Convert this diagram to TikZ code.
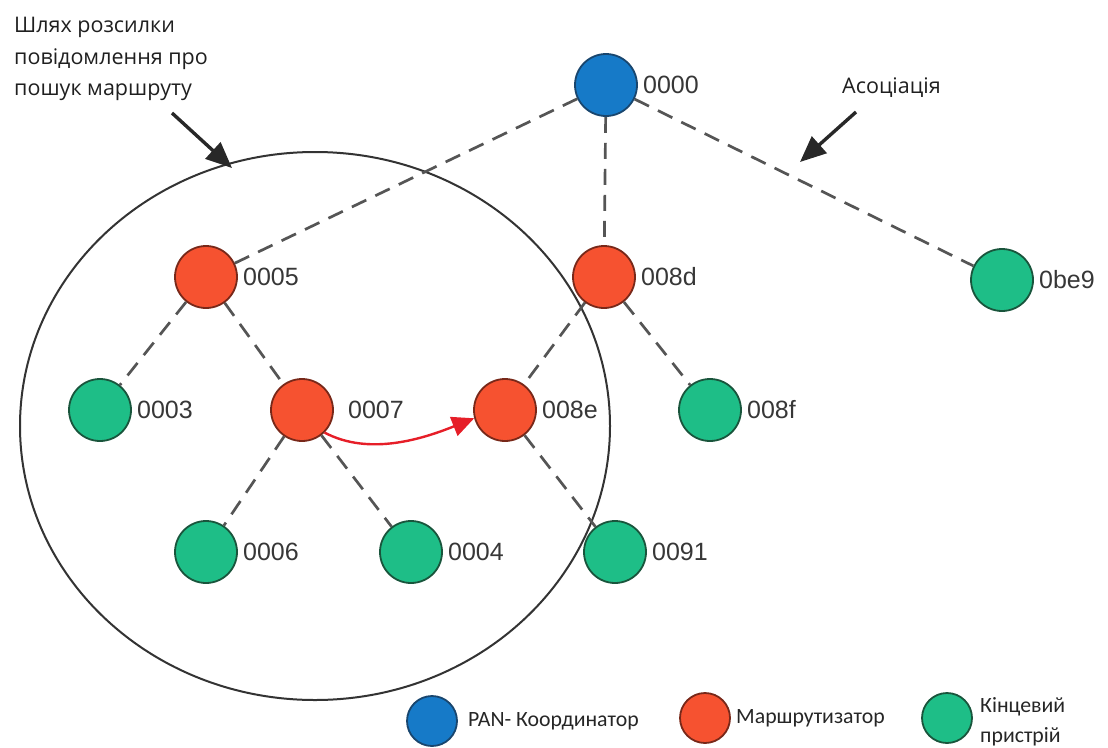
\documentclass[tikz,border=0pt]{standalone}
\usepackage{fontspec}
\setmainfont{Open Sans}
\newfontfamily\legfont{Carlito}
\newfontfamily\numfont{Liberation Sans}
\usetikzlibrary{arrows.meta}
\definecolor{cblue}{RGB}{22,122,200}
\definecolor{cbluedk}{RGB}{25,70,110}
\definecolor{cred}{RGB}{246,82,48}
\definecolor{creddk}{RGB}{120,40,25}
\definecolor{cgreen}{RGB}{30,190,135}
\definecolor{cgreendk}{RGB}{25,85,60}
\definecolor{lblgray}{RGB}{55,55,55}
\definecolor{edgegray}{RGB}{85,85,85}
\definecolor{notegray}{RGB}{40,40,40}
\definecolor{arrred}{RGB}{230,30,40}
\begin{document}
\begin{tikzpicture}[x=1pt,y=-1pt,
  dev/.style={circle, draw, line width=1.8pt, minimum size=62pt, inner sep=0pt},
  coordn/.style={dev, fill=cblue, draw=cbluedk},
  router/.style={dev, fill=cred, draw=creddk},
  enddev/.style={dev, fill=cgreen, draw=cgreendk},
  lbl/.style={font=\numfont\fontsize{25}{25}\selectfont, text=lblgray, anchor=west, inner sep=0pt},
  assoc/.style={dash pattern=on 16pt off 10pt, line width=2.7pt, draw=edgegray},
  note/.style={-{Triangle[length=26pt,width=22pt]}, line width=3.4pt, draw=notegray, fill=notegray},
  notetxt/.style={font=\fontsize{21.5}{31.5}\selectfont, text=black!88, inner sep=0pt, align=left},
  legtxt/.style={font=\legfont\fontsize{21.8}{30}\selectfont, text=black!85, anchor=west, inner sep=0pt, align=left},
]
\useasboundingbox (0,0) rectangle (1108,747);

% broadcast range
\draw[line width=2pt, draw=black!80] (315,426) ellipse [x radius=295, y radius=274];

% nodes
\node[coordn] (n0000) at (606,85) {};
\node[router] (n0005) at (206,277) {};
\node[router] (n008d) at (604,277) {};
\node[enddev] (n0be9) at (1002,280) {};
\node[enddev] (n0003) at (100,410) {};
\node[router] (n0007) at (302,410) {};
\node[router] (n008e) at (505,410) {};
\node[enddev] (n008f) at (710,410) {};
\node[enddev] (n0006) at (206,552) {};
\node[enddev] (n0004) at (411,552) {};
\node[enddev] (n0091) at (615,552) {};

% labels
\node[lbl] (t0000) at ([xshift=5pt]n0000.east) {0000};
\node[lbl] (t0005) at ([xshift=5pt]n0005.east) {0005};
\node[lbl] (t008d) at ([xshift=5pt]n008d.east) {008d};
\node[lbl] (t0be9) at ([xshift=5pt]n0be9.east) {0be9};
\node[lbl] (t0003) at ([xshift=5pt]n0003.east) {0003};
\node[lbl] (t0007) at ([xshift=14pt]n0007.east) {0007};
\node[lbl] (t008e) at ([xshift=5pt]n008e.east) {008e};
\node[lbl] (t008f) at ([xshift=5pt]n008f.east) {008f};
\node[lbl] (t0006) at ([xshift=5pt]n0006.east) {0006};
\node[lbl] (t0004) at ([xshift=5pt]n0004.east) {0004};
\node[lbl] (t0091) at ([xshift=5pt]n0091.east) {0091};

% associations
\draw[assoc] (n0000) -- (n0005);
\draw[assoc] (n0000) -- (n008d);
\draw[assoc] (n0000) -- (n0be9);
\draw[assoc] (n0005) -- (n0003);
\draw[assoc] (n0005) -- (n0007);
\draw[assoc] (n0007) -- (n0006);
\draw[assoc] (n0007) -- (n0004);
\draw[assoc] (n008d) -- (n008e);
\draw[assoc] (n008d) -- (n008f);
\draw[assoc] (n008e) -- (n0091);

% route request
\draw[line width=2.4pt, draw=arrred, -{Triangle[length=22pt,width=20pt]}]
  (n0007.-45) .. controls +(45,24) and +(-50,20) .. (n008e.195);

% annotations
\node[notetxt, anchor=north west] (tpath) at (14,17) {Шлях розсилки\\повідомлення про\\пошук маршруту};
\coordinate (p1s) at (172,113);
\coordinate (p1e) at (232,168);
\draw[note] (p1s) -- (p1e);

\node[notetxt, anchor=west] (tassoc) at (842,88) {Асоціація};
\coordinate (p2s) at (856,112);
\coordinate (p2e) at (800,162);
\draw[note] (p2s) -- (p2e);

% legend
\node[coordn, minimum size=50pt] (lg1) at (432,721) {};
\node[legtxt] (lt1) at (468,721) {PAN- Координатор};
\node[router, minimum size=50pt] (lg2) at (705,718) {};
\node[legtxt] (lt2) at (736,718) {Маршрутизатор};
\node[enddev, minimum size=50pt] (lg3) at (947,718) {};
\node[legtxt] (lt3) at (980,722) {Кінцевий\\пристрій};
\end{tikzpicture}
\end{document}
